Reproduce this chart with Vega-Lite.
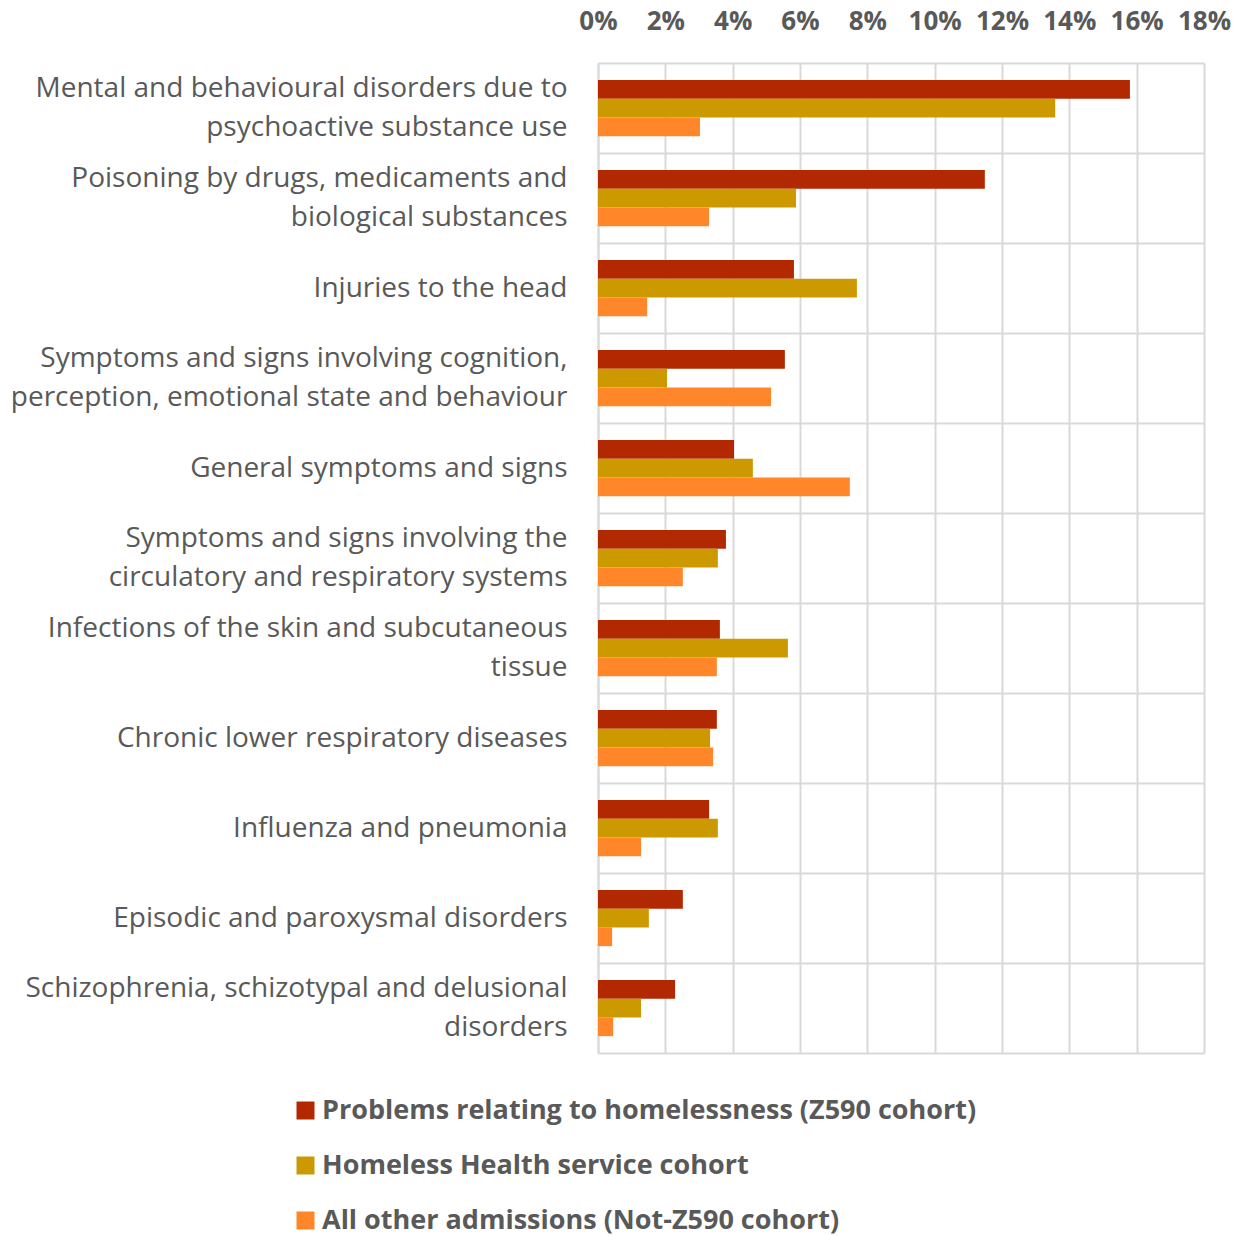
{
  "$schema": "https://vega.github.io/schema/vega-lite/v6.json",
  "width": 606,
  "height": 990,
  "autosize": {"type": "none"},
  "padding": {"left": 598, "top": 63, "right": 43, "bottom": 183},
  "background": "white",
  "config": {"view": {"stroke": null}, "font": "Open Sans"},
  "data": {
    "values": [
      {"cat": "Mental and behavioural disorders due to|psychoactive substance use", "series": "Problems relating to homelessness (Z590 cohort)", "value": 0.158},
      {"cat": "Mental and behavioural disorders due to|psychoactive substance use", "series": "Homeless Health service cohort", "value": 0.1358},
      {"cat": "Mental and behavioural disorders due to|psychoactive substance use", "series": "All other admissions (Not-Z590 cohort)", "value": 0.0303},
      {"cat": "Poisoning by drugs, medicaments and|biological substances", "series": "Problems relating to homelessness (Z590 cohort)", "value": 0.1149},
      {"cat": "Poisoning by drugs, medicaments and|biological substances", "series": "Homeless Health service cohort", "value": 0.0588},
      {"cat": "Poisoning by drugs, medicaments and|biological substances", "series": "All other admissions (Not-Z590 cohort)", "value": 0.033},
      {"cat": "Injuries to the head", "series": "Problems relating to homelessness (Z590 cohort)", "value": 0.0582},
      {"cat": "Injuries to the head", "series": "Homeless Health service cohort", "value": 0.0769},
      {"cat": "Injuries to the head", "series": "All other admissions (Not-Z590 cohort)", "value": 0.0146},
      {"cat": "Symptoms and signs involving cognition,|perception, emotional state and behaviour", "series": "Problems relating to homelessness (Z590 cohort)", "value": 0.0555},
      {"cat": "Symptoms and signs involving cognition,|perception, emotional state and behaviour", "series": "Homeless Health service cohort", "value": 0.0205},
      {"cat": "Symptoms and signs involving cognition,|perception, emotional state and behaviour", "series": "All other admissions (Not-Z590 cohort)", "value": 0.0514},
      {"cat": "General symptoms and signs", "series": "Problems relating to homelessness (Z590 cohort)", "value": 0.0404},
      {"cat": "General symptoms and signs", "series": "Homeless Health service cohort", "value": 0.046},
      {"cat": "General symptoms and signs", "series": "All other admissions (Not-Z590 cohort)", "value": 0.0748},
      {"cat": "Symptoms and signs involving the|circulatory and respiratory systems", "series": "Problems relating to homelessness (Z590 cohort)", "value": 0.038},
      {"cat": "Symptoms and signs involving the|circulatory and respiratory systems", "series": "Homeless Health service cohort", "value": 0.0356},
      {"cat": "Symptoms and signs involving the|circulatory and respiratory systems", "series": "All other admissions (Not-Z590 cohort)", "value": 0.0252},
      {"cat": "Infections of the skin and subcutaneous|tissue", "series": "Problems relating to homelessness (Z590 cohort)", "value": 0.0362},
      {"cat": "Infections of the skin and subcutaneous|tissue", "series": "Homeless Health service cohort", "value": 0.0564},
      {"cat": "Infections of the skin and subcutaneous|tissue", "series": "All other admissions (Not-Z590 cohort)", "value": 0.0353},
      {"cat": "Chronic lower respiratory diseases", "series": "Problems relating to homelessness (Z590 cohort)", "value": 0.0353},
      {"cat": "Chronic lower respiratory diseases", "series": "Homeless Health service cohort", "value": 0.0333},
      {"cat": "Chronic lower respiratory diseases", "series": "All other admissions (Not-Z590 cohort)", "value": 0.0342},
      {"cat": "Influenza and pneumonia", "series": "Problems relating to homelessness (Z590 cohort)", "value": 0.033},
      {"cat": "Influenza and pneumonia", "series": "Homeless Health service cohort", "value": 0.0356},
      {"cat": "Influenza and pneumonia", "series": "All other admissions (Not-Z590 cohort)", "value": 0.0128},
      {"cat": "Episodic and paroxysmal disorders", "series": "Problems relating to homelessness (Z590 cohort)", "value": 0.0252},
      {"cat": "Episodic and paroxysmal disorders", "series": "Homeless Health service cohort", "value": 0.0151},
      {"cat": "Episodic and paroxysmal disorders", "series": "All other admissions (Not-Z590 cohort)", "value": 0.0042},
      {"cat": "Schizophrenia, schizotypal and delusional|disorders", "series": "Problems relating to homelessness (Z590 cohort)", "value": 0.0229},
      {"cat": "Schizophrenia, schizotypal and delusional|disorders", "series": "Homeless Health service cohort", "value": 0.0128},
      {"cat": "Schizophrenia, schizotypal and delusional|disorders", "series": "All other admissions (Not-Z590 cohort)", "value": 0.0045}
    ]
  },
  "mark": {"type": "bar"},
  "encoding": {
    "y": {
      "field": "cat",
      "type": "nominal",
      "sort": null,
      "scale": {"paddingInner": 0, "paddingOuter": 0},
      "axis": {
        "title": null,
        "labelExpr": "split(datum.label, '|')",
        "labelFontSize": 28,
        "labelColor": "#595959",
        "labelPadding": 31,
        "labelLimit": 0,
        "labelLineHeight": 39,
        "labelOffset": {"condition": {"test": "datum && isString(datum.value) && indexof(datum.value, '|') >= 0", "value": -19.5}, "value": 0},
        "ticks": false,
        "domain": true,
        "domainColor": "#D9D9D9",
        "domainWidth": 2,
        "grid": true,
        "tickBand": "extent",
        "gridColor": "#D9D9D9",
        "gridWidth": 2
      }
    },
    "yOffset": {
      "field": "series",
      "sort": ["Problems relating to homelessness (Z590 cohort)", "Homeless Health service cohort", "All other admissions (Not-Z590 cohort)"],
      "scale": {"paddingInner": 0, "paddingOuter": 0.9}
    },
    "x": {
      "field": "value",
      "type": "quantitative",
      "scale": {"domain": [0, 0.18], "nice": false},
      "axis": {
        "orient": "top",
        "title": null,
        "format": ".0%",
        "values": [0, 0.02, 0.04, 0.06, 0.08, 0.1, 0.12, 0.14, 0.16, 0.18],
        "labelFontSize": 26,
        "labelFontWeight": "bold",
        "labelColor": "#595959",
        "labelPadding": 29,
        "labelOverlap": false,
        "labelFlush": false,
        "domain": false,
        "ticks": false,
        "grid": true,
        "gridColor": "#D9D9D9",
        "gridWidth": 2
      }
    },
    "color": {
      "field": "series",
      "type": "nominal",
      "scale": {
        "domain": ["Problems relating to homelessness (Z590 cohort)", "Homeless Health service cohort", "All other admissions (Not-Z590 cohort)"],
        "range": ["#B22800", "#CC9900", "#FF8629"]
      },
      "legend": {
        "title": null,
        "orient": "none",
        "legendX": -306,
        "legendY": 1034,
        "direction": "vertical",
        "symbolType": "square",
        "symbolSize": 324,
        "symbolStrokeWidth": 0,
        "labelFontSize": 27,
        "labelFontWeight": "bold",
        "labelColor": "#595959",
        "labelLimit": 0,
        "labelOffset": 3,
        "rowPadding": 27
      }
    }
  }
}
